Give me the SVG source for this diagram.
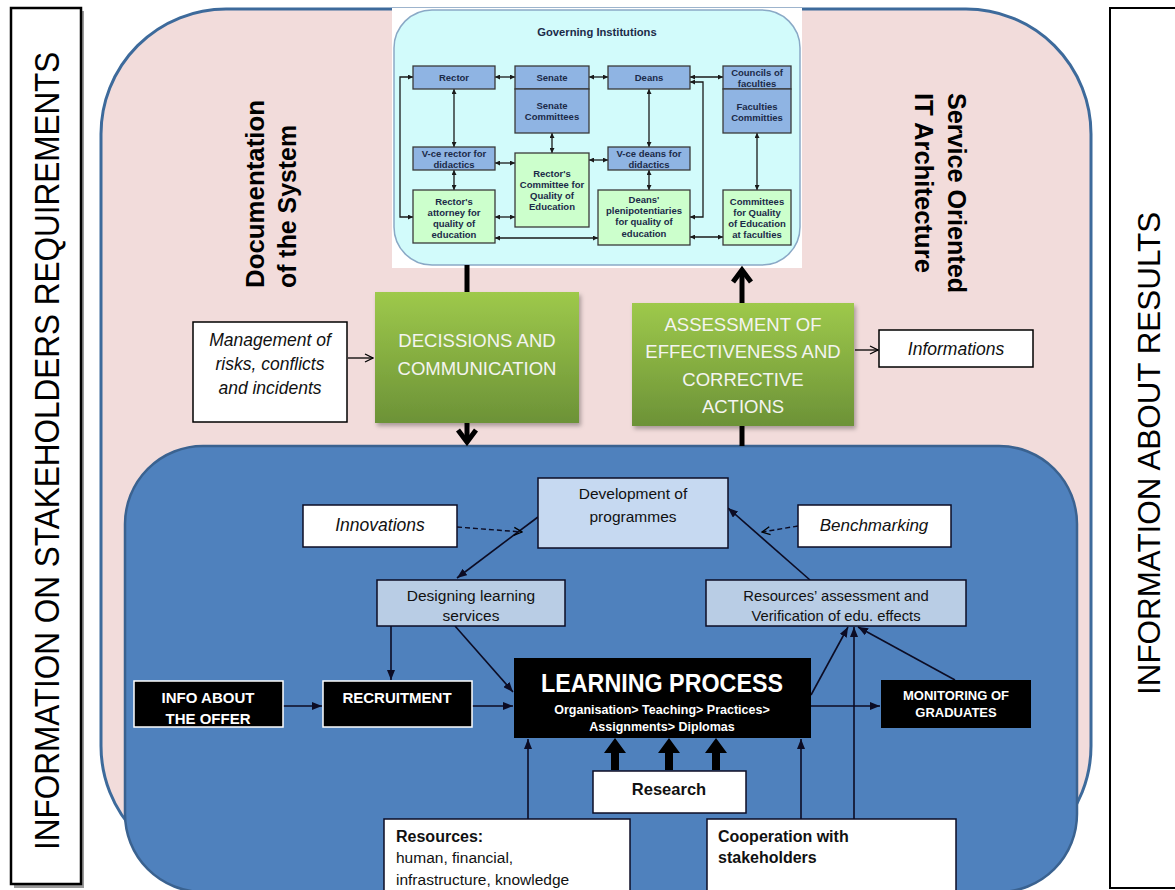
<svg xmlns="http://www.w3.org/2000/svg" width="1175" height="890" viewBox="0 0 1175 890">
<defs>
<style>
.gb{fill:#8fb4e3;stroke:#3a3a3a;stroke-width:1.3}
.gg{fill:#ccffcc;stroke:#3a3a3a;stroke-width:1.3}
.gt{font-family:"Liberation Sans",Arial,sans-serif;font-weight:bold;font-size:9.5px;fill:#1b2a48;text-anchor:middle}
.gl{fill:none;stroke:#1a1a1a;stroke-width:1.3;marker-start:url(#ga);marker-end:url(#ga)}
.bl{fill:none;stroke:#0c0c24;stroke-width:1.6;marker-end:url(#fa)}
.dl{fill:none;stroke:#0c0c24;stroke-width:1.4;stroke-dasharray:5 3;marker-end:url(#oa)}
.ol{fill:none;stroke:#000;stroke-width:1.3;marker-end:url(#oa)}
.thick{fill:none;stroke:#000;stroke-width:5}
.lb{fill:#c6d9f1;stroke:#0c0c24;stroke-width:1.5}
.wb{fill:#fff;stroke:#0c0c24;stroke-width:1.5}
.kb{fill:#000;stroke:#fff;stroke-width:1.5}
.green{fill:url(#green);filter:url(#sh)}
.t{font-family:"Liberation Sans",Arial,sans-serif;fill:#111}
.it{font-family:"Liberation Sans",Arial,sans-serif;font-style:italic;fill:#111}
.gw{font-family:"Liberation Sans",Arial,sans-serif;fill:#f4f4f0;font-size:18.5px;text-anchor:middle}
.wt{font-family:"Liberation Sans",Arial,sans-serif;font-weight:bold;fill:#fff;text-anchor:middle}
.c{text-anchor:middle}
.vt{font-family:"Liberation Sans",Arial,sans-serif;font-weight:bold;font-size:26px;fill:#000}
</style>
<linearGradient id="green" x1="0" y1="0" x2="0" y2="1">
<stop offset="0" stop-color="#9ec94b"/>
<stop offset="1" stop-color="#6c9237"/>
</linearGradient>
<filter id="sh" x="-10%" y="-10%" width="130%" height="130%">
<feDropShadow dx="2" dy="3" stdDeviation="2" flood-color="#000" flood-opacity="0.3"/>
</filter>
<marker id="ga" viewBox="0 0 6 6" refX="6" refY="3" markerWidth="5" markerHeight="5" markerUnits="userSpaceOnUse" orient="auto-start-reverse">
<path d="M0,0 L6,3 L0,6 z" fill="#1a1a1a"/>
</marker>
<marker id="fa" viewBox="0 0 10 8" refX="10" refY="4" markerWidth="10" markerHeight="8" markerUnits="userSpaceOnUse" orient="auto">
<path d="M0,0 L10,4 L0,8 z" fill="#0c0c24"/>
</marker>
<marker id="oa" viewBox="0 0 10 10" refX="9" refY="5" markerWidth="10" markerHeight="10" markerUnits="userSpaceOnUse" orient="auto">
<path d="M1,1 L9,5 L1,9" fill="none" stroke="#000" stroke-width="1.3"/>
</marker>
</defs>
<rect width="1175" height="890" fill="#fff"/>

<g id="stakeholders-requirements">
<rect x="14" y="11" width="70" height="877" fill="#9a9a9a"/>
<rect x="11" y="8" width="70" height="876" fill="#fff" stroke="#000" stroke-width="2.5"/>
<text transform="translate(59,850) rotate(-90) scale(0.875,1)" font-family="'Liberation Sans',Arial,sans-serif" font-size="36" fill="#000">INFORMATION ON STAKEHOLDERS REQUIREMENTS</text>
</g>

<g id="results-info">
<rect x="1110" y="8" width="80" height="880" fill="#fff" stroke="#000" stroke-width="2"/>
<text transform="translate(1160,695) rotate(-90)" font-family="'Liberation Sans',Arial,sans-serif" font-size="31.4" fill="#000">INFORMATION ABOUT RESULTS</text>
</g>

<g id="management-system">
<rect x="101" y="9" width="990" height="862" rx="125" fill="#f2dcdb" stroke="#3d6a9b" stroke-width="3"/>
<text class="vt" transform="translate(264,288) rotate(-90)" textLength="188" lengthAdjust="spacingAndGlyphs">Documentation</text>
<text class="vt" transform="translate(296,288) rotate(-90)" textLength="163" lengthAdjust="spacingAndGlyphs">of the System</text>
<text class="vt" transform="translate(948,93) rotate(90)" textLength="200" lengthAdjust="spacingAndGlyphs">Service Oriented</text>
<text class="vt" transform="translate(915,93) rotate(90)" textLength="180" lengthAdjust="spacingAndGlyphs">IT Architecture</text>
</g>

<g id="process-area">
<rect x="125" y="446" width="952" height="446" rx="78" fill="#4f81bd" stroke="#3a6290" stroke-width="2.5"/>
</g>

<g id="governing-institutions">
<rect x="392" y="8" width="410" height="260" fill="#fff"/>
<rect x="394" y="10" width="406" height="255" rx="38" fill="#d2fbfb" stroke="#8aa9c6" stroke-width="1.5"/>
<text x="597" y="36" font-family="'Liberation Sans',Arial,sans-serif" font-weight="bold" font-size="11.2" fill="#1b2a48" text-anchor="middle">Governing Institutions</text>
</g>

<g id="connectors">
<path class="gl" d="M495,77 H515"/>
<path class="gl" d="M589,77 H608"/>
<path class="gl" d="M690,77 H723"/>
<path class="gl" d="M454,89 V147"/>
<path class="gl" d="M454,170 V190"/>
<path class="gl" d="M495,163 H515"/>
<path class="gl" d="M495,217 H515"/>
<path class="gl" d="M552,133 V153"/>
<path class="gl" d="M589,160 H608"/>
<path class="gl" d="M649,89 V147"/>
<path class="gl" d="M649,170 V190"/>
<path class="gl" d="M690,237 H723"/>
<path class="gl" d="M757,133 V190"/>
<path class="gl" d="M413,77 H400 V217 H413"/>
<path class="gl" d="M495,238 H598"/>
<path class="gl" d="M690,82 H703 V217 H690"/>

<path class="thick" d="M467,265 V292"/>
<path class="thick" d="M467,423 V441"/>
<path class="thick" d="M458,430 L467,442 L476,430"/>
<path class="thick" d="M742,303 V272"/>
<path class="thick" d="M733,282 L742,270 L751,282"/>
<path class="thick" d="M742,426 V446"/>

<path class="ol" d="M348,358 H373"/>
<path class="ol" d="M855,350 H878"/>

<path class="bl" d="M538,517 L457,578"/>
<path class="dl" d="M457,527 L522,532"/>
<path class="dl" d="M798,526 L762,532"/>
<path class="bl" d="M810,580 L728,508"/>
<path class="bl" d="M391,626 V680"/>
<path class="bl" d="M455,626 L513,692"/>
<path class="bl" d="M283,706 H322"/>
<path class="bl" d="M472,706 H513"/>
<path class="bl" d="M528,819 V739"/>
<path class="bl" d="M801,819 V739"/>
<path class="bl" d="M811,706 H880"/>
<path class="bl" d="M811,695 L848,627"/>
<path class="bl" d="M854,819 V627"/>
<path class="bl" d="M955,680 L858,627"/>

<path d="M611,770 V753 H604 L615,738 L626,753 H619 V770 Z" fill="#000"/>
<path d="M665,770 V753 H658 L669,738 L680,753 H673 V770 Z" fill="#000"/>
<path d="M712,770 V753 H705 L716,738 L727,753 H720 V770 Z" fill="#000"/>
</g>

<g id="rector">
<rect class="gb" x="413" y="66" width="82" height="23"/>
<text class="gt" x="454" y="81">Rector</text>
</g>
<g id="senate">
<rect class="gb" x="515" y="66" width="74" height="23"/>
<text class="gt" x="552" y="81">Senate</text>
</g>
<g id="senate-committees">
<rect class="gb" x="515" y="89" width="74" height="44"/>
<text class="gt" x="552" y="109">Senate</text>
<text class="gt" x="552" y="120">Committees</text>
</g>
<g id="deans">
<rect class="gb" x="608" y="66" width="82" height="23"/>
<text class="gt" x="649" y="81">Deans</text>
</g>
<g id="councils">
<rect class="gb" x="723" y="66" width="68" height="23"/>
<text class="gt" x="757" y="75.5">Councils of</text>
<text class="gt" x="757" y="86.5">faculties</text>
</g>
<g id="faculties-committies">
<rect class="gb" x="723" y="89" width="68" height="44"/>
<text class="gt" x="757" y="109.5">Faculties</text>
<text class="gt" x="757" y="120.5">Committies</text>
</g>
<g id="vce-rector">
<rect class="gb" x="413" y="147" width="82" height="23"/>
<text class="gt" x="454" y="156.5">V-ce rector for</text>
<text class="gt" x="454" y="167.5">didactics</text>
</g>
<g id="vce-deans">
<rect class="gb" x="608" y="147" width="82" height="23"/>
<text class="gt" x="649" y="156.5">V-ce deans for</text>
<text class="gt" x="649" y="167.5">didactics</text>
</g>
<g id="rector-committee">
<rect class="gg" x="515" y="153" width="74" height="74"/>
<text class="gt" x="552" y="176.5">Rector's</text>
<text class="gt" x="552" y="187.5">Committee for</text>
<text class="gt" x="552" y="198.5">Quality of</text>
<text class="gt" x="552" y="210">Education</text>
</g>
<g id="rector-attorney">
<rect class="gg" x="413" y="190" width="82" height="53"/>
<text class="gt" x="454" y="204.5">Rector's</text>
<text class="gt" x="454" y="215.5">attorney for</text>
<text class="gt" x="454" y="226.5">quality of</text>
<text class="gt" x="454" y="237.5">education</text>
</g>
<g id="deans-plenipotentiaries">
<rect class="gg" x="598" y="190" width="92" height="55"/>
<text class="gt" x="644" y="202.5">Deans'</text>
<text class="gt" x="644" y="213.5">plenipotentiaries</text>
<text class="gt" x="644" y="225">for quality of</text>
<text class="gt" x="644" y="236.5">education</text>
</g>
<g id="faculty-quality-committees">
<rect class="gg" x="723" y="190" width="68" height="55"/>
<text class="gt" x="757" y="204.5">Committees</text>
<text class="gt" x="757" y="215.5">for Quality</text>
<text class="gt" x="757" y="226.5">of Education</text>
<text class="gt" x="757" y="237.5">at faculties</text>
</g>

<g id="decisions">
<rect class="green" x="375" y="292" width="204" height="131"/>
<text class="gw" x="477" y="347">DECISSIONS AND</text>
<text class="gw" x="477" y="375">COMMUNICATION</text>
</g>
<g id="assessment">
<rect class="green" x="632" y="303" width="222" height="123"/>
<text class="gw" x="743" y="331">ASSESSMENT OF</text>
<text class="gw" x="743" y="358">EFFECTIVENESS AND</text>
<text class="gw" x="743" y="386">CORRECTIVE</text>
<text class="gw" x="743" y="413">ACTIONS</text>
</g>
<g id="management-risks">
<rect x="193" y="322" width="154" height="100" fill="#fff" stroke="#000" stroke-width="1.5"/>
<text class="it c" x="270" y="346" font-size="17.5">Management of</text>
<text class="it c" x="270" y="370" font-size="17.5">risks, conflicts</text>
<text class="it c" x="270" y="394" font-size="17.5">and incidents</text>
</g>
<g id="informations">
<rect x="879" y="330" width="154" height="37" fill="#fff" stroke="#000" stroke-width="1.5"/>
<text class="it c" x="956" y="355" font-size="17.5">Informations</text>
</g>

<g id="development">
<rect class="lb" x="538" y="478" width="190" height="70"/>
<text class="t c" x="633" y="499" font-size="15.5">Development of</text>
<text class="t c" x="633" y="522" font-size="15.5">programmes</text>
</g>
<g id="innovations">
<rect class="wb" x="303" y="505" width="154" height="42"/>
<text class="it c" x="380" y="531" font-size="17.5">Innovations</text>
</g>
<g id="benchmarking">
<rect class="wb" x="798" y="505" width="153" height="42"/>
<text class="it c" x="874" y="531" font-size="17">Benchmarking</text>
</g>
<g id="designing">
<rect class="lb" x="377" y="580" width="188" height="46" style="fill:#b9cde5"/>
<text class="t c" x="471" y="601" font-size="15.5">Designing learning</text>
<text class="t c" x="471" y="621" font-size="15.5">services</text>
</g>
<g id="resources-assessment">
<rect class="lb" x="706" y="580" width="260" height="46" style="fill:#b9cde5"/>
<text class="t c" x="836" y="601" font-size="14.8">Resources’ assessment and</text>
<text class="t c" x="836" y="621" font-size="14.8">Verification of edu. effects</text>
</g>
<g id="info-offer">
<rect class="kb" x="134" y="681" width="149" height="46"/>
<text class="wt" x="208" y="703" font-size="15">INFO ABOUT</text>
<text class="wt" x="208" y="724" font-size="15">THE OFFER</text>
</g>
<g id="recruitment">
<rect class="kb" x="323" y="681" width="149" height="46"/>
<text class="wt" x="397" y="703" font-size="15">RECRUITMENT</text>
</g>
<g id="learning-process">
<rect x="514" y="658" width="297" height="80" fill="#000"/>
<text class="wt" x="662" y="692" font-size="26" textLength="242" lengthAdjust="spacingAndGlyphs">LEARNING PROCESS</text>
<text class="wt" x="662" y="714" font-size="12.5">Organisation&gt; Teaching&gt; Practices&gt;</text>
<text class="wt" x="662" y="731" font-size="12.5">Assignments&gt; Diplomas</text>
</g>
<g id="monitoring">
<rect x="881" y="680" width="150" height="48" fill="#000"/>
<text class="wt" x="956" y="700" font-size="13">MONITORING OF</text>
<text class="wt" x="956" y="717" font-size="13">GRADUATES</text>
</g>
<g id="research">
<rect class="wb" x="593" y="771" width="153" height="42"/>
<text class="t c" x="669" y="795" font-size="16.5" font-weight="bold">Research</text>
</g>
<g id="resources">
<rect class="wb" x="384" y="819" width="246" height="80"/>
<text class="t" x="396" y="842" font-size="16" font-weight="bold">Resources:</text>
<text class="t" x="396" y="863" font-size="15.5">human, financial,</text>
<text class="t" x="396" y="885" font-size="15.5">infrastructure, knowledge</text>
</g>
<g id="cooperation">
<rect class="wb" x="707" y="819" width="249" height="80"/>
<text class="t" x="718" y="842" font-size="16" font-weight="bold">Cooperation with</text>
<text class="t" x="718" y="863" font-size="16" font-weight="bold">stakeholders</text>
</g>
</svg>
